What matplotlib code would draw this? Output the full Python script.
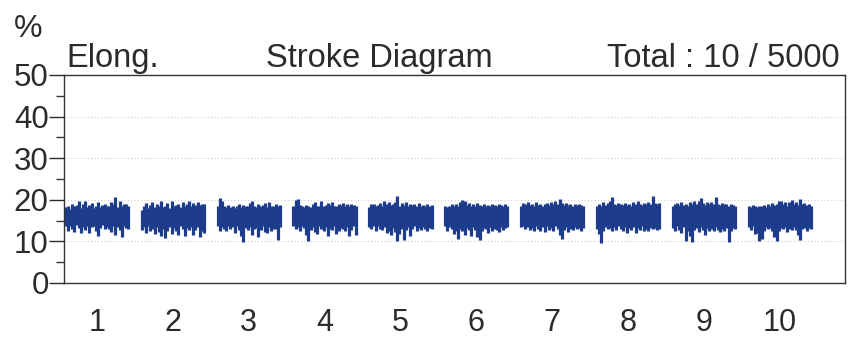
import matplotlib
matplotlib.use("Agg")
import matplotlib.pyplot as plt
import numpy as np

# --- data: per block upper / lower envelope of elongation (%) ---
blocks = [1, 2, 3, 4, 5, 6, 7, 8, 9, 10]

upper_1 = [18.2, 18.6, 17.9, 19.0, 18.4, 18.8, 19.6, 18.1, 18.9, 19.8, 18.3, 18.7, 19.2, 18.0, 18.5,
           19.4, 18.2, 18.8, 19.1, 18.4, 18.6, 19.5, 18.9, 20.6, 18.3, 19.7, 18.5, 18.9, 19.0, 18.4]
lower_1 = [13.6, 12.4, 13.8, 13.1, 12.2, 13.9, 13.3, 11.9, 13.5, 12.8, 13.7, 12.1, 13.4, 13.8, 12.6,
           11.4, 13.2, 13.9, 12.9, 13.5, 13.0, 12.3, 13.7, 11.6, 13.4, 12.7, 11.1, 13.8, 13.2, 12.9]
upper_2 = [17.6, 18.4, 19.2, 18.0, 18.7, 19.5, 18.2, 18.9, 18.5, 19.8, 18.3, 18.6, 19.3, 18.1, 19.6,
           18.4, 18.8, 19.0, 18.2, 19.4, 18.6, 18.9, 19.7, 18.5, 19.2, 18.8, 19.5, 18.7, 19.1, 18.9]
lower_2 = [12.8, 13.4, 12.0, 13.6, 12.5, 13.1, 11.7, 13.5, 12.2, 11.3, 13.0, 10.9, 12.6, 13.4, 11.8,
           13.2, 12.4, 11.5, 13.6, 12.9, 11.2, 13.3, 12.7, 13.5, 11.6, 12.8, 13.4, 11.0, 12.5, 12.1]
upper_3 = [18.4, 20.4, 19.6, 18.5, 18.2, 18.8, 18.3, 18.6, 18.1, 18.5, 18.9, 18.2, 18.7, 18.4, 18.6,
           19.3, 19.8, 18.5, 18.2, 18.9, 18.4, 18.7, 19.2, 18.3, 19.5, 18.6, 18.4, 18.9, 18.5, 18.7]
lower_3 = [13.8, 12.6, 13.5, 13.0, 12.4, 13.7, 12.9, 13.4, 12.1, 13.6, 12.8, 11.4, 9.9, 13.2, 12.7,
           13.5, 11.6, 12.9, 13.3, 11.0, 12.8, 13.6, 12.3, 11.9, 13.4, 12.6, 13.1, 12.9, 10.3, 13.5]
upper_4 = [18.6, 19.9, 20.3, 18.7, 18.4, 18.2, 18.8, 18.5, 18.3, 18.9, 19.4, 18.6, 18.4, 19.6, 18.5,
           18.8, 19.2, 18.7, 19.5, 18.6, 18.4, 19.0, 18.7, 19.3, 18.5, 18.9, 18.6, 19.1, 18.8, 18.5]
lower_4 = [13.7, 12.9, 13.5, 12.5, 13.8, 13.2, 11.5, 10.1, 12.7, 13.4, 12.3, 11.8, 13.6, 12.9, 12.4,
           13.5, 11.4, 13.1, 12.8, 13.6, 11.7, 12.5, 13.3, 12.9, 12.6, 13.5, 11.2, 12.8, 13.7, 11.5]
upper_5 = [18.3, 18.9, 19.1, 18.5, 18.7, 19.2, 18.6, 19.6, 18.9, 19.4, 18.7, 19.0, 19.5, 20.8, 18.6,
           19.2, 18.8, 19.4, 18.5, 19.0, 18.7, 18.9, 18.4, 19.3, 18.6, 18.8, 18.5, 18.9, 18.4, 18.7]
lower_5 = [13.5, 13.0, 13.8, 12.4, 13.6, 13.1, 12.7, 13.4, 11.9, 12.6, 11.5, 13.2, 12.2, 10.0, 11.8,
           13.0, 10.4, 12.8, 13.5, 11.3, 12.9, 13.6, 12.4, 13.2, 12.8, 13.5, 12.9, 12.6, 13.3, 13.1]
upper_6 = [18.5, 18.2, 18.6, 18.9, 18.4, 19.0, 18.5, 19.4, 19.9, 19.6, 18.7, 19.2, 18.6, 18.9, 18.5,
           19.3, 18.8, 18.6, 19.1, 18.4, 18.8, 18.6, 19.0, 18.7, 18.5, 18.9, 18.7, 18.6, 18.9, 18.5]
lower_6 = [13.6, 12.5, 13.4, 12.9, 11.8, 12.6, 10.5, 13.1, 12.4, 11.6, 13.2, 12.8, 11.3, 13.5, 12.7,
           11.0, 10.3, 12.4, 13.3, 12.9, 11.9, 13.4, 12.6, 13.1, 12.8, 12.2, 13.5, 12.7, 13.2, 13.4]
upper_7 = [18.6, 19.3, 18.9, 19.5, 18.7, 19.1, 18.5, 19.4, 18.8, 19.0, 18.6, 18.9, 19.2, 18.7, 19.4,
           18.9, 19.6, 19.0, 20.1, 19.3, 18.8, 19.2, 18.7, 19.0, 18.6, 18.9, 18.7, 19.1, 18.8, 18.5]
lower_7 = [13.4, 13.8, 12.9, 13.5, 12.7, 13.3, 12.4, 13.6, 13.0, 12.6, 13.4, 12.3, 13.7, 12.8, 13.2,
           12.5, 13.6, 12.9, 11.6, 10.5, 12.8, 13.4, 12.2, 13.1, 12.7, 13.5, 12.9, 13.2, 12.6, 13.3]
upper_8 = [18.4, 18.9, 18.6, 19.4, 18.7, 19.2, 19.8, 20.6, 19.0, 18.8, 19.3, 18.9, 18.7, 19.2, 18.8,
           19.0, 18.6, 19.4, 18.9, 19.7, 19.1, 18.8, 19.3, 18.9, 19.5, 19.0, 21.0, 19.2, 18.9, 19.3]
lower_8 = [12.9, 11.8, 9.6, 12.4, 13.5, 12.9, 13.2, 12.6, 13.4, 12.8, 13.6, 13.0, 12.5, 13.5, 11.9,
           13.2, 12.7, 13.4, 12.1, 13.3, 12.8, 13.6, 12.4, 13.0, 12.6, 13.2, 12.9, 13.3, 12.7, 13.1]
upper_9 = [18.5, 18.9, 19.3, 18.7, 19.4, 18.8, 19.1, 18.6, 19.5, 19.0, 19.6, 18.9, 19.8, 20.5, 19.2,
           18.8, 19.5, 19.1, 19.4, 18.9, 20.6, 19.0, 18.7, 19.3, 18.9, 19.1, 18.6, 19.0, 18.8, 18.6]
lower_9 = [13.2, 12.4, 13.6, 12.8, 12.0, 13.4, 10.0, 12.6, 11.4, 9.9, 12.7, 13.2, 12.3, 13.5, 12.8,
           11.6, 13.3, 12.5, 13.0, 12.6, 13.4, 12.7, 12.2, 13.1, 12.4, 13.2, 9.9, 12.6, 13.3, 12.9]
upper_10 = [18.4, 18.2, 18.8, 18.5, 18.3, 18.6, 18.4, 18.7, 18.3, 18.9, 18.5, 19.3, 18.7, 19.1, 19.6,
            19.8, 18.9, 19.4, 18.6, 19.5, 20.0, 19.1, 19.4, 18.8, 20.2, 19.0, 19.3, 18.7, 18.9, 18.6]
lower_10 = [13.5, 12.8, 13.6, 11.8, 12.0, 10.2, 10.5, 12.4, 13.4, 12.9, 13.3, 12.6, 11.0, 10.2, 12.5,
            13.2, 12.9, 13.4, 12.3, 13.0, 12.8, 13.5, 12.7, 11.5, 10.4, 12.9, 13.3, 12.6, 13.2, 13.0]

uppers = [upper_1, upper_2, upper_3, upper_4, upper_5, upper_6, upper_7, upper_8, upper_9, upper_10]
lowers = [lower_1, lower_2, lower_3, lower_4, lower_5, lower_6, lower_7, lower_8, lower_9, lower_10]

y_ticks = [0, 10, 20, 30, 40, 50]

# --- style ---
plt.rcParams['font.family'] = ['Liberation Sans', 'DejaVu Sans']
text_color = '#2b2b2b'
line_color = '#1e3c8c'

fig = plt.figure(figsize=(8.52, 3.40), dpi=100)
ax = fig.add_axes([64 / 852, 57 / 340, 781 / 852, 208 / 340])

half_w = 0.41
for b, up, lo in zip(blocks, uppers, lowers):
    xs = b + np.linspace(-half_w, half_w, len(up))
    ax.vlines(xs, lo, up, color=line_color, linewidth=2.3)

ax.set_xlim(0.565, 10.86)
ax.set_ylim(0, 50)
ax.set_yticks(y_ticks)
ax.set_yticks(range(5, 50, 10), minor=True)
ax.set_xticks(blocks)
ax.set_xticklabels([str(b) for b in blocks])

# faint dotted grid
for y in y_ticks[1:-1]:
    ax.axhline(y, color='#d0d0d0', linestyle=(0, (1, 2)), linewidth=0.8, zorder=0)

for side in ['top', 'right', 'left', 'bottom']:
    ax.spines[side].set_color('#333333')
    ax.spines[side].set_linewidth(1.0)

ax.tick_params(axis='y', which='major', direction='out', length=11, width=1.0,
               pad=0, labelsize=22.5, colors=text_color)
ax.tick_params(axis='y', which='minor', direction='out', length=5.5, width=1.0, color='#333333')
ax.tick_params(axis='x', which='major', length=0, pad=18, labelsize=22, colors=text_color)

# header texts
fig.text(14 / 852, 1 - 37 / 340, '%', fontsize=23, color=text_color, va='baseline')
fig.text(66 / 852, 1 - 67 / 340, 'Elong.', fontsize=23.5, color=text_color, va='baseline')
fig.text(379 / 852, 1 - 67 / 340, 'Stroke Diagram', fontsize=23.5, color=text_color,
         va='baseline', ha='center')
fig.text(840 / 852, 1 - 67 / 340, 'Total : 10 / 5000', fontsize=23.5, color=text_color,
         va='baseline', ha='right')

fig.savefig('out.png', dpi=100)
